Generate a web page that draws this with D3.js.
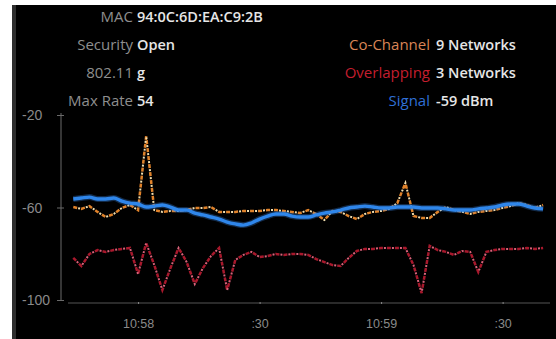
<!DOCTYPE html>
<html>
<head>
<meta charset="utf-8">
<script src="https://cdn.jsdelivr.net/npm/d3@7"></script>
<style>
	html, body { margin: 0; padding: 0; background: #fff; }
	svg { display: block; }
</style>
</head>
<body>
<div id="chart"></div>
<script>
// seconds after 10:57:00
var times = [44,46,48,50,52,54,56,58,60,62,64,66,68,70,72,74,76,78,80,82,84,86,88,90,92,94,96,98,100,102,
	104,106,108,110,112,114,116,118,120,122,124,126,128,130,132,134,136,138,140,142,144,146,148,150,152,154,156,158,160];

var signal = [-56.3,-55.9,-55.5,-56.3,-56.3,-55.9,-57.2,-58.1,-58.5,-59.8,
	-59.4,-58.9,-59.8,-61.1,-61.1,-62.4,-63.2,-64.1,-65.0,-66.3,
	-67.1,-67.6,-66.7,-65.0,-63.7,-62.8,-62.8,-63.7,-64.1,-64.1,
	-63.2,-62.4,-61.9,-61.1,-60.2,-59.8,-59.4,-59.8,-60.2,-60.2,
	-59.8,-59.8,-59.8,-60.2,-60.2,-60.2,-60.6,-61.1,-61.1,-61.1,
	-60.6,-60.2,-59.8,-58.9,-58.5,-58.5,-59.4,-60.2,-60.6];

var coChannel = [-59.8,-60.6,-59.4,-61.9,-64.1,-62.8,-60.2,-58.9,-61.1,-29.1,
	-61.1,-61.9,-61.5,-61.5,-61.1,-60.2,-60.2,-59.8,-61.9,-61.9,
	-61.9,-61.5,-61.5,-61.5,-61.1,-61.1,-61.5,-61.9,-62.4,-61.1,
	-62.8,-65.4,-61.5,-61.9,-63.7,-65.0,-62.8,-61.9,-61.5,-60.6,
	-58.1,-49.4,-63.7,-64.5,-64.5,-61.9,-59.8,-61.1,-61.9,-62.8,
	-61.9,-61.5,-61.1,-60.2,-59.4,-58.1,-58.9,-60.2,-58.9];

var overlapping = [-81.8,-85.3,-80.1,-78.4,-79.2,-78.4,-77.9,-77.5,-88.8,-75.3,
	-84.9,-95.7,-86.2,-77.5,-83.6,-93.1,-86.2,-81.0,-77.5,-95.7,
	-82.7,-80.5,-79.2,-81.4,-81.0,-80.1,-80.5,-80.1,-80.1,-80.5,
	-82.3,-83.6,-84.9,-85.3,-81.8,-78.8,-77.9,-77.9,-77.5,-77.5,
	-77.5,-77.5,-84.9,-97.0,-76.6,-78.4,-79.2,-80.5,-78.8,-79.2,
	-87.9,-79.2,-78.4,-77.9,-77.9,-77.9,-77.5,-77.9,-77.5];

var yTicks = [-20, -60, -100];
var xTicks = [60, 90, 120, 150];
var xTickLabels = ["10:58", ":30", "10:59", ":30"];

var infoLabels = ["MAC", "Security", "802.11", "Max Rate"];
var infoValues = ["94:0C:6D:EA:C9:2B", "Open", "g", "54"];

var legendLabels = ["Co-Channel", "Overlapping", "Signal"];
var legendValues = ["9 Networks", "3 Networks", "-59 dBm"];
var legendColors = ["#d98556", "#c41e2e", "#2f6fd6"];

function init(){
	var w = 556;
	var h = 339;

	var svg = d3.select("#chart")
				.append("svg")
				.attr("width", w)
				.attr("height", h)
				.style("font-family", "'Open Sans', sans-serif");

	// dark panel with grey left edge
	svg.append("rect").attr("x", 12).attr("y", 5).attr("width", 4).attr("height", h - 5).attr("fill", "#2e2e2e");
	svg.append("rect").attr("x", 16).attr("y", 5).attr("width", w - 16).attr("height", h - 5).attr("fill", "#000");

	var x = d3.scaleLinear()
				.domain([42.7, 161.7])
				.range([68, 550]);

	var y = d3.scaleLinear()
				.domain([-100, -20])
				.range([300, 115]);

	//y axis, labels are left aligned in the original
	var yAxis = svg.append("g")
				.attr("transform", "translate(61,0)")
				.call(d3.axisLeft(y).tickValues(yTicks).tickSize(4).tickSizeOuter(0)
					.tickFormat(function(d){ return d; }));
	yAxis.select(".domain").attr("stroke", "#6a6a6a").attr("d", "M0,113V301");
	yAxis.selectAll(".tick line").attr("stroke", "#6a6a6a").attr("x2", -4).attr("x1", 3);
	yAxis.selectAll(".tick text")
		.attr("fill", "#8a8a8a")
		.style("font-size", "14px")
		.attr("text-anchor", "start")
		.attr("x", -39)
		.attr("dy", "0.35em");

	//x axis
	var xAxis = svg.append("g")
				.attr("transform", "translate(0,303)")
				.call(d3.axisBottom(x).tickValues(xTicks).tickSize(2).tickSizeOuter(0).tickPadding(14)
					.tickFormat(function(d, i){ return xTickLabels[i]; }));
	xAxis.select(".domain").attr("stroke", "#555").attr("d", "M68,0H550");
	xAxis.selectAll(".tick line").attr("stroke", "#888").attr("y1", -1).attr("y2", 1);
	xAxis.selectAll(".tick text").attr("fill", "#8a8a8a").style("font-size", "12.5px");

	var linear = d3.line()
					.x(function(d, i){ return x(times[i]); })
					.y(function(d){ return y(d); });

	var smooth = d3.line()
					.x(function(d, i){ return x(times[i]); })
					.y(function(d){ return y(d); })
					.curve(d3.curveMonotoneX);

	//dashed series: coloured dash, then a pale dot in the gap
	function dashed(values, main, dot){
		svg.append("path").attr("d", linear(values))
			.attr("fill", "none").attr("stroke", main).attr("stroke-width", 2.5)
			.attr("stroke-dasharray", "4,4");
		svg.append("path").attr("d", linear(values))
			.attr("fill", "none").attr("stroke", dot).attr("stroke-width", 2)
			.attr("stroke-dasharray", "2,6")
			.attr("stroke-dashoffset", -5);
	}

	dashed(overlapping, "#a8182c", "#d9627a");
	dashed(coChannel, "#e0822a", "#f4e0b0");

	//signal - blue with a soft glow
	svg.append("path").attr("d", smooth(signal))
		.attr("fill", "none").attr("stroke", "#3a8cf0").attr("stroke-width", 6).attr("opacity", 0.3);
	svg.append("path").attr("d", smooth(signal))
		.attr("fill", "none").attr("stroke", "#2f86ea").attr("stroke-width", 3.4)
		.attr("stroke-linejoin", "round");

	//info block at top left
	var rowsY = [17, 45, 73, 101];
	svg.selectAll("text.infolab")
		.data(infoLabels)
		.enter()
		.append("text")
		.attr("class", "infolab")
		.attr("x", 133)
		.attr("y", function(d, i){ return rowsY[i]; })
		.attr("dy", "0.35em")
		.attr("text-anchor", "end")
		.attr("fill", "#8e8e8e")
		.style("font-size", "15px")
		.text(function(d){ return d; });
	svg.selectAll("text.infoval")
		.data(infoValues)
		.enter()
		.append("text")
		.attr("class", "infoval")
		.attr("x", 137)
		.attr("y", function(d, i){ return rowsY[i]; })
		.attr("dy", "0.35em")
		.attr("fill", "#e6e6e6")
		.style("font-size", "14.5px")
		.style("font-weight", 600)
		.text(function(d){ return d; });

	//legend at top right
	svg.selectAll("text.leglab")
		.data(legendLabels)
		.enter()
		.append("text")
		.attr("class", "leglab")
		.attr("x", 430)
		.attr("y", function(d, i){ return rowsY[i + 1]; })
		.attr("dy", "0.35em")
		.attr("text-anchor", "end")
		.attr("fill", function(d, i){ return legendColors[i]; })
		.style("font-size", "15px")
		.text(function(d){ return d; });
	svg.selectAll("text.legval")
		.data(legendValues)
		.enter()
		.append("text")
		.attr("class", "legval")
		.attr("x", 436)
		.attr("y", function(d, i){ return rowsY[i + 1]; })
		.attr("dy", "0.35em")
		.attr("fill", "#e6e6e6")
		.style("font-size", "14.5px")
		.style("font-weight", 600)
		.text(function(d){ return d; });
}

window.onload = init;
</script>
</body>
</html>
